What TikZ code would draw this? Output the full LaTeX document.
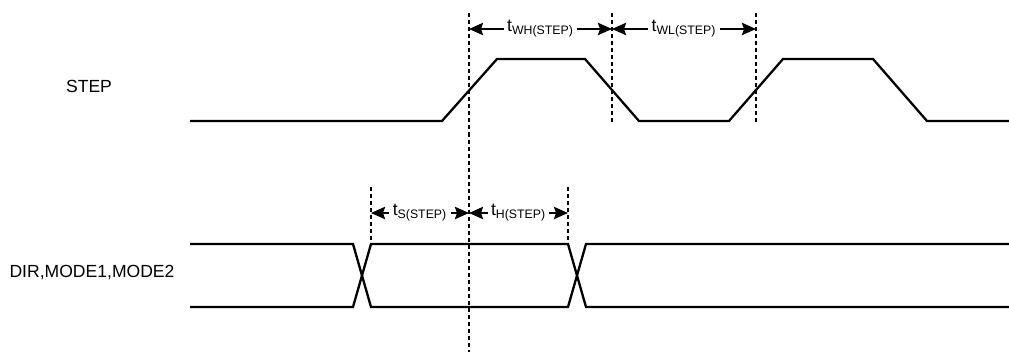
\documentclass[tikz,border=0pt]{standalone}
\usepackage{fontspec}
\setmainfont{Liberation Sans}
\usetikzlibrary{arrows.meta}

\begin{document}
\begin{tikzpicture}[x=0.02cm,y=-0.02cm,
    wave/.style={line width=1.3pt, line join=miter},
    marker/.style={line width=1pt, dash pattern=on 2.3pt off 1.7pt},
    span/.style={{Stealth[length=8pt,width=7pt,inset=1.2pt]}-{Stealth[length=8pt,width=7pt,inset=1.2pt]}, line width=1.2pt},
    spanlabel/.style={fill=white, inner sep=2pt}]
  \useasboundingbox (0,0) rectangle (1009,352);
  % signal names
  \node (step) at (89,86) {STEP};
  \node (dir) at (92,272) {DIR,MODE1,MODE2};
  % STEP waveform
  \draw[wave] (190,121) -- (442,121) -- (497,59) -- (585,59) -- (639,121)
    -- (729,121) -- (783,59) -- (873,59) -- (927,121) -- (1009,121);
  % DIR/MODE bus
  \draw[wave] (190,244) -- (353,244) -- (371,307) -- (568,307) -- (586,244) -- (1009,244);
  \draw[wave] (190,307) -- (353,307) -- (371,244) -- (568,244) -- (586,307) -- (1009,307);
  % reference lines
  \coordinate (r1top) at (469,13);
  \coordinate (r1bot) at (469,352);
  \coordinate (f1top) at (612,13);
  \coordinate (f1bot) at (612,122);
  \coordinate (r2top) at (756,13);
  \coordinate (r2bot) at (756,122);
  \coordinate (s1top) at (371,187);
  \coordinate (s1bot) at (371,244);
  \coordinate (h1top) at (568,187);
  \coordinate (h1bot) at (568,244);
  \draw[marker] (r1top) -- (r1bot);
  \draw[marker] (f1top) -- (f1bot);
  \draw[marker] (r2top) -- (r2bot);
  \draw[marker] (s1top) -- (s1bot);
  \draw[marker] (h1top) -- (h1bot);
  % timing spans
  \coordinate (wha) at (469,29);
  \coordinate (whb) at (612,29);
  \coordinate (wlb) at (756,29);
  \coordinate (sa) at (371,213);
  \coordinate (sb) at (469,213);
  \coordinate (hb) at (568,213);
  \draw[span] (wha) -- node[spanlabel] (twh) {t\textsubscript{WH(STEP)}} (whb);
  \draw[span] (whb) -- node[spanlabel] (twl) {t\textsubscript{WL(STEP)}} (wlb);
  \draw[span] (sa) -- node[spanlabel] (ts) {t\textsubscript{S(STEP)}} (sb);
  \draw[span] (sb) -- node[spanlabel] (th) {t\textsubscript{H(STEP)}} (hb);
\end{tikzpicture}
\end{document}
